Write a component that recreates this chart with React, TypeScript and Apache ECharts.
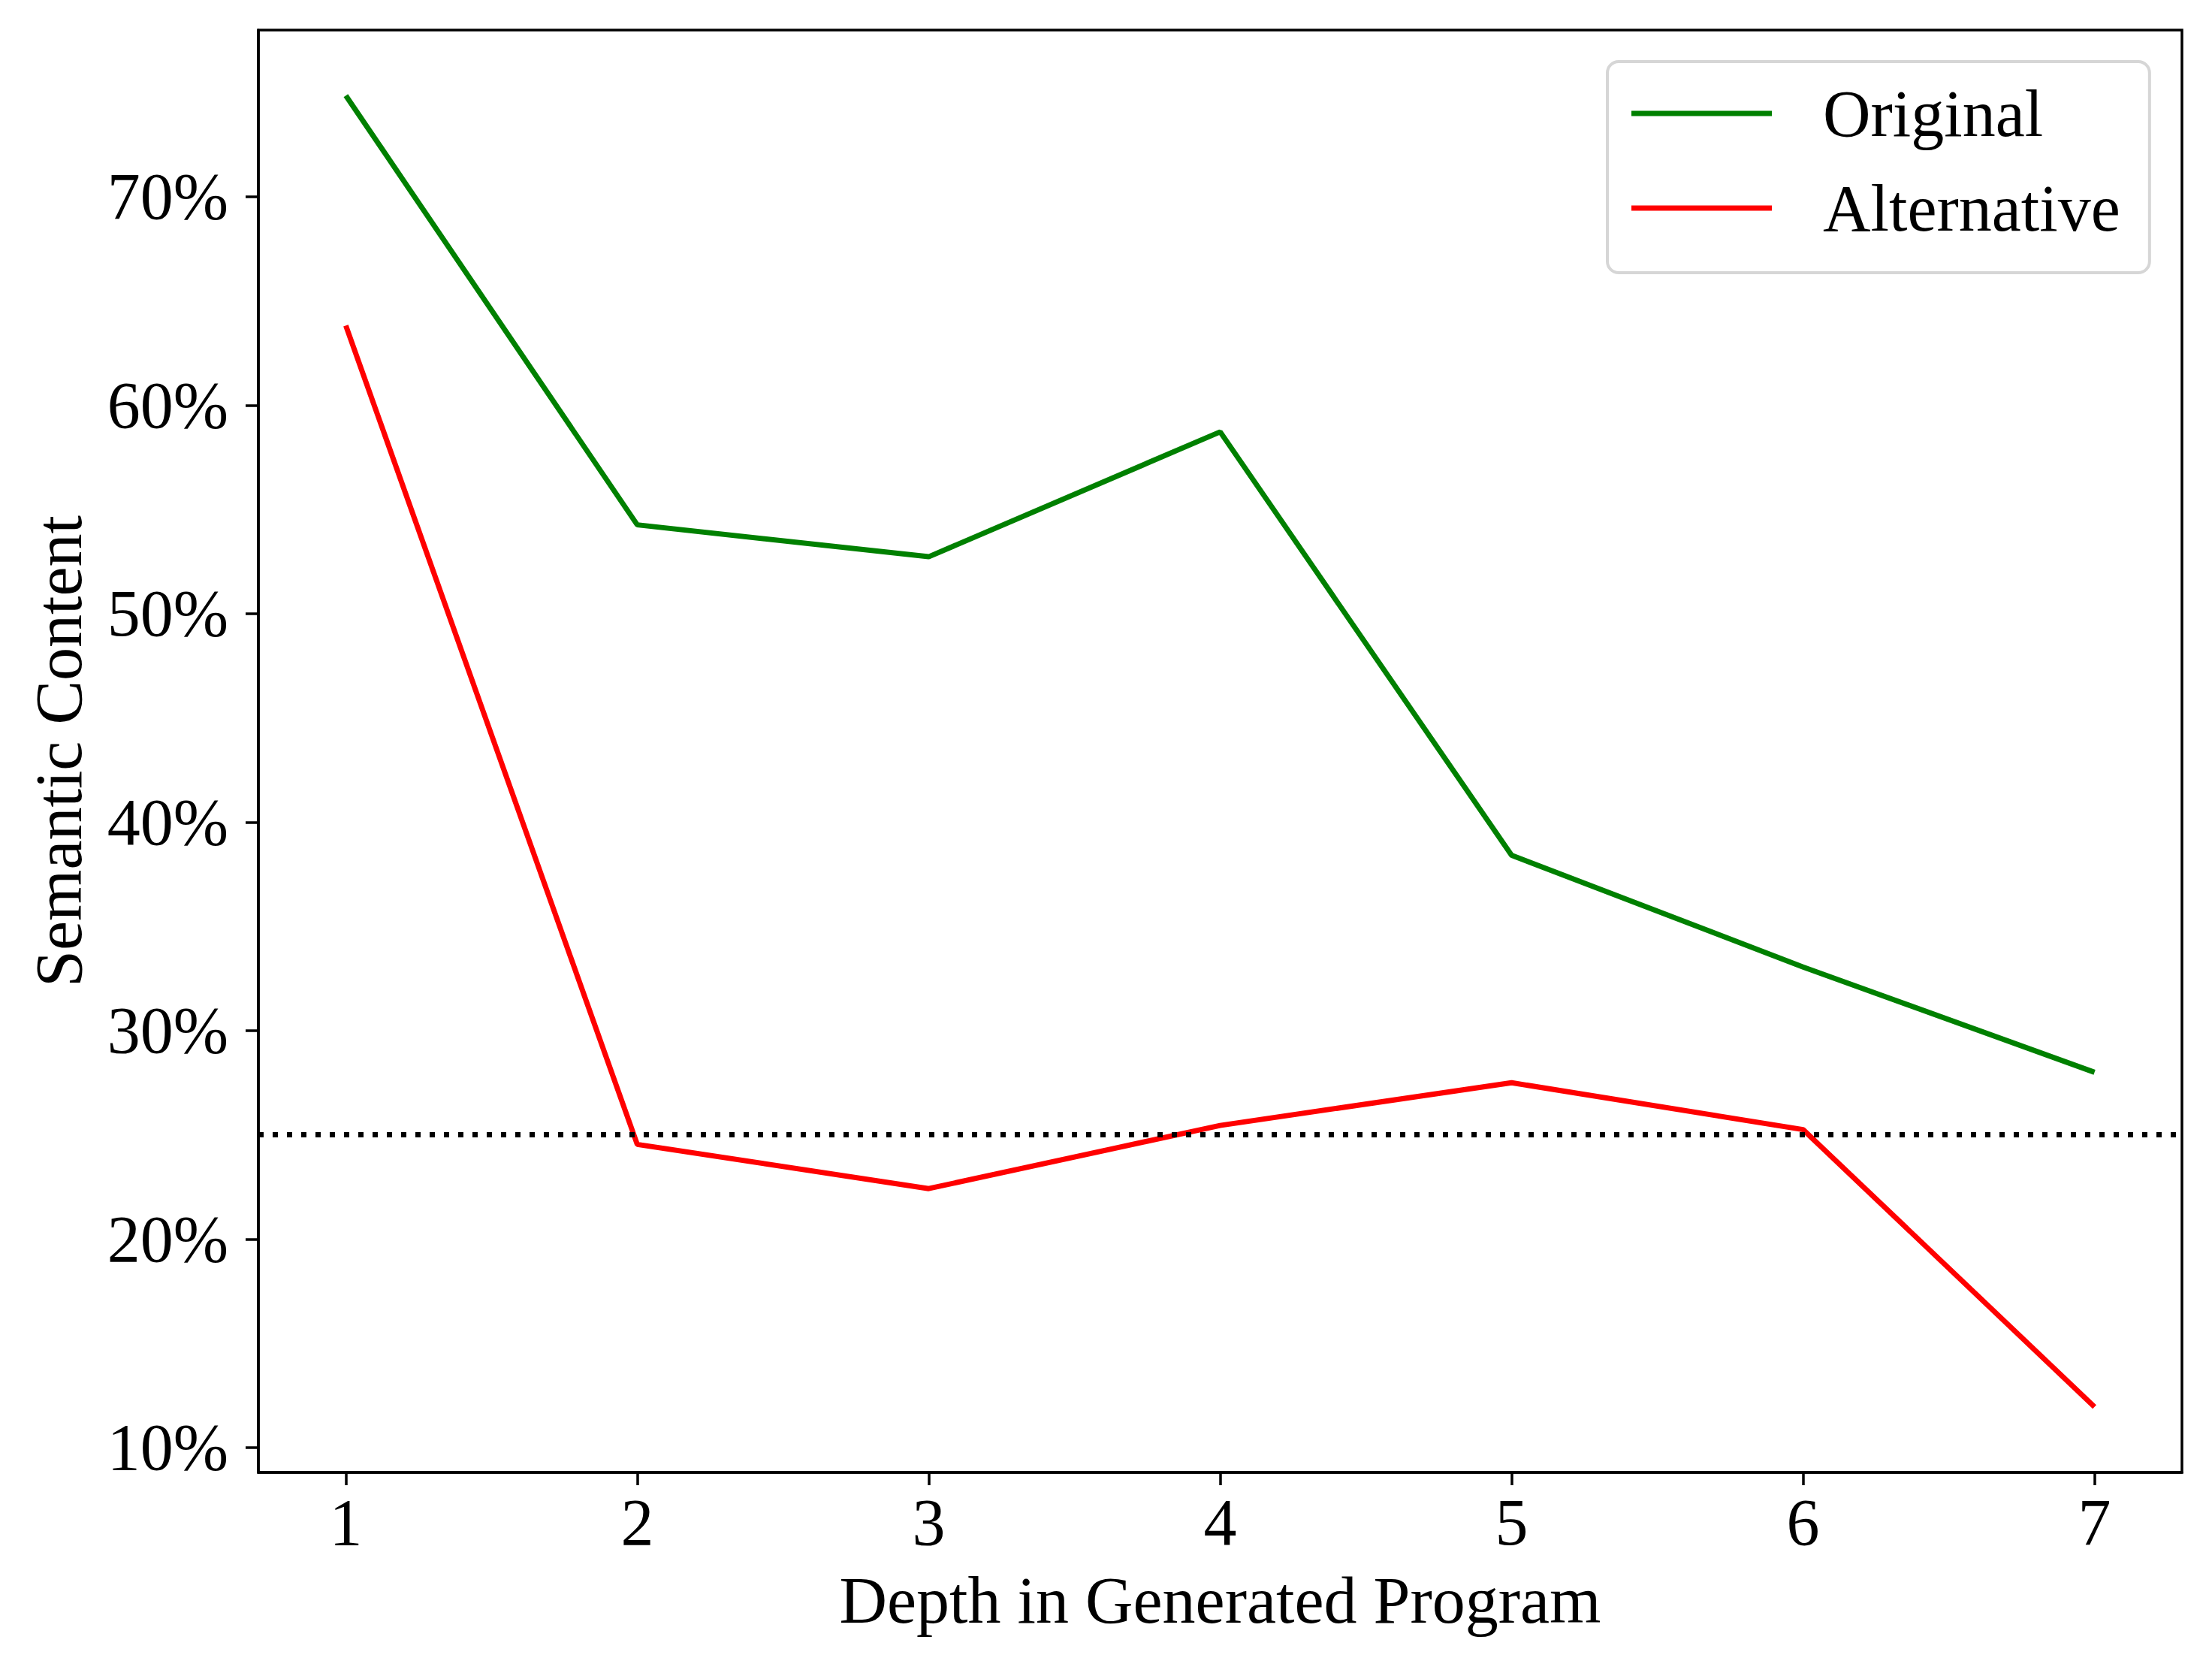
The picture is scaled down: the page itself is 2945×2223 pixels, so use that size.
import React, { useEffect, useRef } from "react";
import * as echarts from "echarts";

const depth = [1, 2, 3, 4, 5, 6, 7];
const original = [74.85, 54.26, 52.73, 58.72, 38.41, 33.05, 28.0];
const alternative = [63.82, 24.54, 22.42, 25.45, 27.5, 25.25, 11.95];
const yTicks = [10, 20, 30, 40, 50, 60, 70];
const chanceLevel = 25;
const seriesNames = ["Original", "Alternative"];

const FONT = '"Liberation Serif", "Times New Roman", serif';

export default function App() {
  const ref = useRef<HTMLDivElement>(null);
  useEffect(() => {
    if (!ref.current) return;
    const chart = echarts.init(ref.current, undefined, { renderer: "svg" });
    const all = [...original, ...alternative];
    const dMin = Math.min(...all);
    const dMax = Math.max(...all);
    const yPad = (dMax - dMin) * 0.05;
    const xPad = (depth[depth.length - 1] - depth[0]) * 0.05;
    chart.setOption({
      animation: false,
      backgroundColor: "#ffffff",
      textStyle: { fontFamily: FONT },
      grid: {
        left: 344,
        right: 40,
        top: 40,
        bottom: 263,
        show: true,
        borderColor: "#000",
        borderWidth: 3.5,
        backgroundColor: "transparent",
      },
      legend: {
        orient: "vertical",
        left: 2140,
        top: 82,
        padding: [25, 39, 42, 32],
        itemWidth: 187,
        itemHeight: 7,
        itemGap: 38,
        icon: "rect",
        backgroundColor: "rgba(255,255,255,0.8)",
        borderColor: "#d6d6d6",
        borderWidth: 4,
        borderRadius: 15,
        textStyle: {
          fontFamily: FONT,
          fontSize: 88,
          color: "#000",
          lineHeight: 88,
          padding: [0, 0, 0, 63],
        },
        data: seriesNames,
      },
      xAxis: {
        type: "value",
        min: depth[0] - xPad,
        max: depth[depth.length - 1] + xPad,
        name: "Depth in Generated Program",
        nameLocation: "middle",
        nameGap: 126,
        nameTextStyle: { fontFamily: FONT, fontSize: 88, color: "#000" },
        axisLine: { show: true, lineStyle: { color: "#000", width: 3.5 } },
        axisTick: {
          show: true,
          length: 17,
          lineStyle: { color: "#000", width: 3.5 },
          customValues: depth,
        },
        axisLabel: {
          fontFamily: FONT,
          fontSize: 88,
          color: "#000",
          margin: 22,
          customValues: depth,
          formatter: (v: number) => String(v),
        },
        splitLine: { show: false },
      },
      yAxis: {
        type: "value",
        min: dMin - yPad,
        max: dMax + yPad,
        name: "Semantic Content",
        nameLocation: "middle",
        nameRotate: 90,
        nameGap: 222,
        nameTextStyle: { fontFamily: FONT, fontSize: 88, color: "#000" },
        axisLine: { show: true, lineStyle: { color: "#000", width: 3.5 } },
        axisTick: {
          show: true,
          length: 17,
          lineStyle: { color: "#000", width: 3.5 },
          customValues: yTicks,
        },
        axisLabel: {
          fontFamily: FONT,
          fontSize: 88,
          color: "#000",
          margin: 40,
          customValues: yTicks,
          formatter: (v: number) => `${v}%`,
        },
        splitLine: { show: false },
      },
      series: [
        {
          name: seriesNames[0],
          type: "line",
          data: depth.map((d, i) => [d, original[i]]),
          symbol: "none",
          lineStyle: { color: "#008000", width: 7 },
          itemStyle: { color: "#008000" },
          z: 2,
        },
        {
          name: seriesNames[1],
          type: "line",
          data: depth.map((d, i) => [d, alternative[i]]),
          symbol: "none",
          lineStyle: { color: "#ff0000", width: 7 },
          itemStyle: { color: "#ff0000" },
          z: 3,
          markLine: {
            silent: true,
            symbol: ["none", "none"],
            label: { show: false },
            lineStyle: { color: "#000", width: 7, type: [7, 12] },
            data: [{ yAxis: chanceLevel }],
            z: 4,
          },
        },
      ],
    });
    return () => chart.dispose();
  }, []);
  return (
    <div
      ref={ref}
      style={{ position: "absolute", left: 0, top: 0, width: 2945, height: 2223 }}
    />
  );
}
